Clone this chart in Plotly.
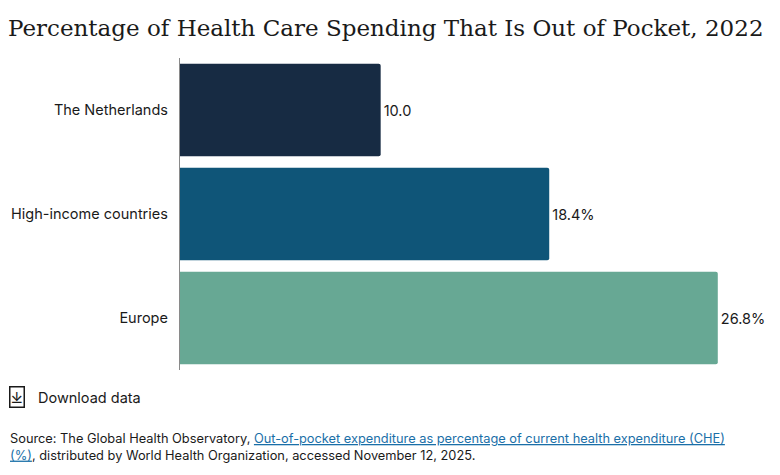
import plotly.graph_objects as go

# data
regions = ["The Netherlands", "High-income countries", "Europe"]
values = [10.0, 18.4, 26.8]
value_labels = ["10.0", "18.4%", "26.8%"]
bar_colors = ["#172b43", "#0f5578", "#67a894"]

fig = go.Figure()

fig.add_trace(go.Bar(
    x=values, y=regions, orientation="h",
    marker=dict(color=bar_colors, line=dict(width=0), cornerradius=2),
    text=value_labels, textposition="outside",
    textfont=dict(size=14.5, color="#1a1a1a"),
    cliponaxis=False, hoverinfo="skip",
))

fig.update_layout(
    width=772, height=467,
    margin=dict(l=172, r=0, t=50, b=105),
    paper_bgcolor="white", plot_bgcolor="white",
    font=dict(family="Inter, Roboto, sans-serif", color="#1a1a1a"),
    bargap=0.11, showlegend=False,
    title=dict(text="Percentage of Health Care Spending That Is Out of Pocket, 2022",
               x=0, xref="container", xanchor="left", y=0.975, yanchor="top",
               font=dict(family="DejaVu Serif, serif", size=23, color="#1a1a1a")),
    xaxis=dict(range=[0, 29.9], visible=False, fixedrange=True),
    yaxis=dict(autorange="reversed", showline=True, linecolor="#8a8a8a", linewidth=1,
               showgrid=False, ticks="", ticksuffix="  ",
               tickfont=dict(size=14.5, color="#1a1a1a"), fixedrange=True),
)

# download link and source note
fig.add_annotation(text="⤓", xref="paper", yref="paper", x=-0.285, y=-0.088,
                   xanchor="left", yanchor="middle", showarrow=False,
                   font=dict(size=15, color="#1a1a1a"),
                   bordercolor="#1a1a1a", borderwidth=1.5, borderpad=0)
fig.add_annotation(text="Download data", xref="paper", yref="paper", x=-0.24, y=-0.088,
                   xanchor="left", yanchor="middle", showarrow=False,
                   font=dict(size=14.5, color="#1a1a1a"))
fig.add_annotation(
    text=("Source: The Global Health Observatory, "
          "<span style='color:#1a6fa8'><u>Out-of-pocket expenditure as percentage of current health expenditure (CHE)</u></span>"
          "<br><span style='color:#1a6fa8'><u>(%)</u></span>, distributed by World Health Organization, accessed November 12, 2025."),
    xref="paper", yref="paper", x=-0.287, y=-0.19, xanchor="left", yanchor="top",
    align="left", showarrow=False, font=dict(size=12.8, color="#1a1a1a"))

fig.write_html("out.html")
